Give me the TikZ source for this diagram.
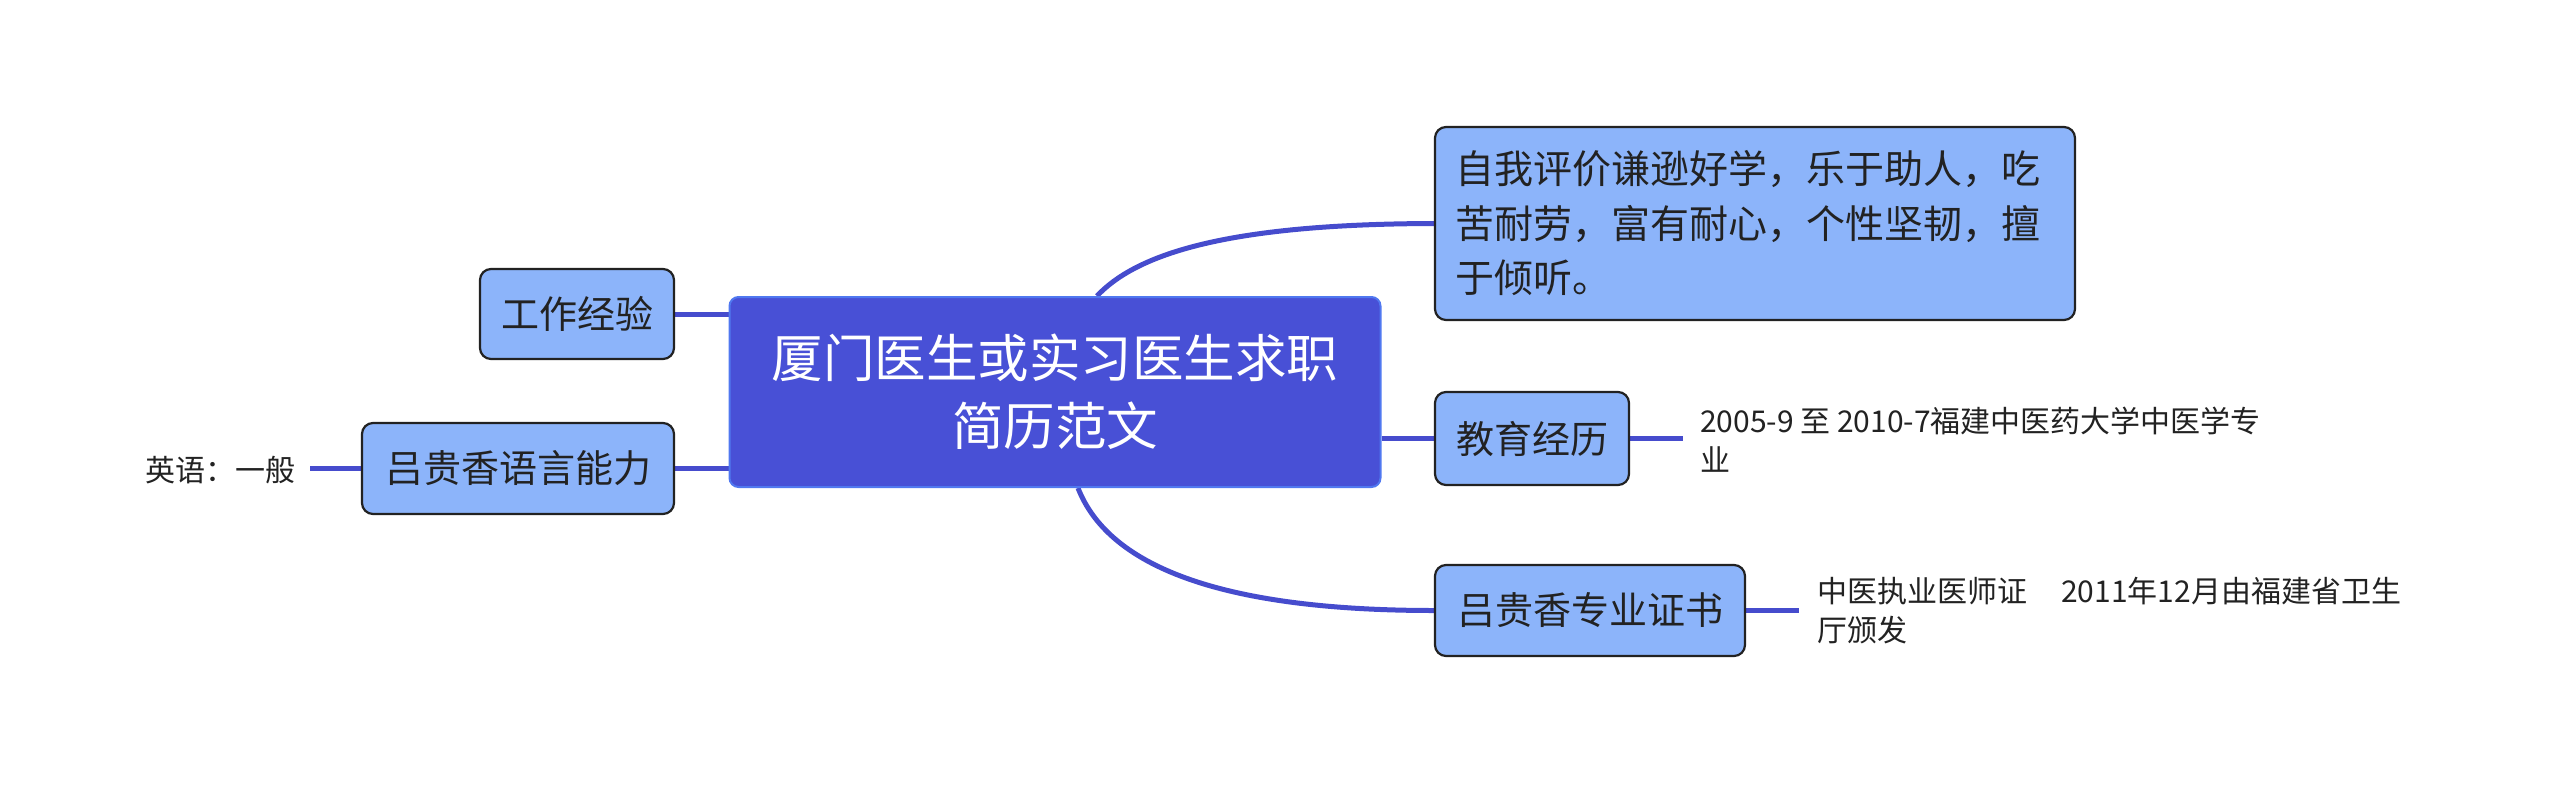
\documentclass[tikz,border=0pt]{standalone}
\usepackage{fontspec}
\setmainfont{Noto Sans CJK SC}
\usetikzlibrary{backgrounds,calc}
\definecolor{mainfill}{RGB}{72,80,214}
\definecolor{mainborder}{RGB}{80,120,240}
\definecolor{subfill}{RGB}{140,180,250}
\definecolor{linkcol}{RGB}{70,76,205}
\definecolor{txt}{RGB}{34,34,34}
\tikzset{
  mainnode/.style={rectangle, rounded corners=9pt, fill=mainfill, draw=mainborder, line width=2pt,
    text=white, font=\fontsize{51.5}{68}\selectfont, align=center, inner sep=0pt,
    minimum width=651pt, minimum height=190pt},
  subnode/.style={rectangle, rounded corners=11pt, fill=subfill, draw=txt, line width=2.2pt,
    text=txt, font=\fontsize{38}{54.5}\selectfont, inner sep=0pt},
  detail/.style={text=txt, font=\fontsize{30}{39}\selectfont, align=left, inner sep=0pt},
  link/.style={draw=linkcol, line width=5pt},
}
\begin{document}
\begin{tikzpicture}[x=1pt,y=-1pt]
\useasboundingbox (0,0) rectangle (2560,793);
% nodes
\node[mainnode] (c) at (1055,392) {厦门医生或实习医生求职\\简历范文};
\node[subnode, minimum width=640pt, minimum height=193pt, text width=600pt, align=left,
  font=\fontsize{39}{54.5}\selectfont]
  (s) at (1755,223.5) {自我评价谦逊好学，乐于助人，吃\\苦耐劳，富有耐心，个性坚韧，擅\\于倾听。};
\node[subnode, minimum width=194pt, minimum height=93pt] (e) at (1532,438.5) {教育经历};
\node[subnode, minimum width=310pt, minimum height=91pt] (r) at (1590,610.5) {吕贵香专业证书};
\node[subnode, minimum width=194pt, minimum height=90pt] (w) at (577,314) {工作经验};
\node[subnode, minimum width=312pt, minimum height=91pt] (l) at (518,468.5) {吕贵香语言能力};
\node[detail, anchor=west] (ed) at (1700,440) {2005-9 至 2010-7福建中医药大学中医学专\\业};
\node[detail, anchor=west] (rd) at (1817,611) {中医执业医师证\hspace*{34pt}2011年12月由福建省卫生\\厅颁发};
\node[detail, anchor=east] (ld) at (296,470) {英语：一般};
\coordinate (edc) at (1683,438.5);
\coordinate (rdc) at (1799,610.5);
\coordinate (ldc) at (310,468.5);
% connectors
\begin{scope}[on background layer]
\draw[link] ($(c.north)+(42,0)$) .. controls (1140,250) and (1240,224) .. (s.west);
\draw[link] ($(c.south)+(23,0)$) .. controls (1110,570) and (1230,610.5) .. (r.west);
\draw[link] (c.east |- e.west) -- (e.west);
\draw[link] (w.east) -- (w.east -| c.west);
\draw[link] (l.east) -- (l.east -| c.west);
\draw[link] (e.east) -- (edc);
\draw[link] (r.east) -- (rdc);
\draw[link] (l.west) -- (ldc);
\end{scope}
\end{tikzpicture}
\end{document}
